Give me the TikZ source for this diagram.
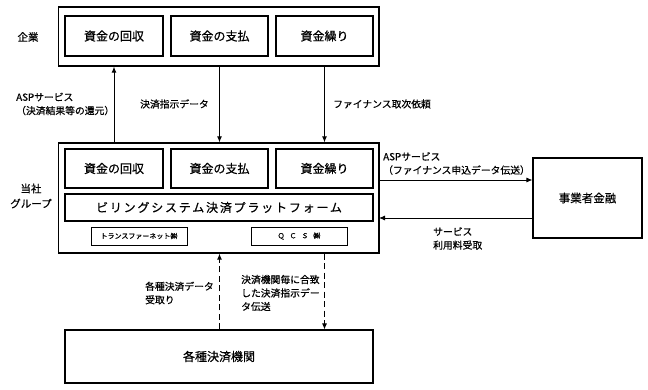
\documentclass[tikz,border=0pt]{standalone}
\usepackage{fontspec}
\setmainfont[FakeBold=0.6]{Noto Sans CJK JP}
\newfontfamily\jpwide[LetterSpace=15,FakeBold=0.6]{Noto Sans CJK JP}
\newfontfamily\jpqcs[LetterSpace=70,FakeBold=0.6]{Noto Sans CJK JP}
\usetikzlibrary{arrows.meta}
\begin{document}
\begin{tikzpicture}[x=1pt,y=-1pt,
  outerbox/.style={draw,line width=1.3pt,inner sep=0pt},
  innerbox/.style={draw,line width=1.1pt,inner sep=0pt,font=\fontsize{12}{14}\selectfont},
  smallbox/.style={draw,line width=0.9pt,inner sep=0pt,font=\fontsize{7}{8}\selectfont},
  lbl/.style={anchor=west,inner sep=0pt,align=left,font=\fontsize{9.8}{13.5}\selectfont},
  arr/.style={line width=0.9pt,-{Latex[length=6pt,width=5pt]}},
  darr/.style={line width=0.9pt,dash pattern=on 6pt off 3.5pt,-{Latex[length=6pt,width=5pt]}}]
\useasboundingbox (0,0) rectangle (648,390);
% top group
\node[outerbox,minimum width=320.5pt,minimum height=59pt] (top) at (218.75,36.5) {};
\node[innerbox,minimum width=98pt,minimum height=40pt] (t1) at (114,36) {資金の回収};
\node[innerbox,minimum width=97pt,minimum height=40pt] (t2) at (219.5,36) {資金の支払};
\node[innerbox,minimum width=97pt,minimum height=40pt] (t3) at (324.5,36) {資金繰り};
\node[inner sep=0pt,font=\fontsize{10.5}{13}\selectfont] (lk) at (28,37) {企業};
% middle group
\node[outerbox,minimum width=320.5pt,minimum height=110pt] (mid) at (218.75,198) {};
\node[innerbox,minimum width=98pt,minimum height=39pt] (m1) at (114,168.5) {資金の回収};
\node[innerbox,minimum width=97pt,minimum height=39pt] (m2) at (219.5,168.5) {資金の支払};
\node[innerbox,minimum width=97pt,minimum height=39pt] (m3) at (324.5,168.5) {資金繰り};
\node[innerbox,minimum width=308pt,minimum height=27pt,font=\fontsize{12}{14}\jpwide] (plat) at (219,207.5) {ビリングシステム決済プラットフォーム};
\node[smallbox,minimum width=96pt,minimum height=18pt] (tn) at (139,236) {トランスファーネット㈱};
\node[smallbox,minimum width=96pt,minimum height=18pt,font=\fontsize{7}{8}\jpqcs] (qcs) at (299,236) {ＱＣＳ㈱};
\node[inner sep=0pt,align=center,font=\fontsize{10.5}{15}\selectfont] (lg) at (31,196) {当社\\グループ};
% right box
\node[outerbox,line width=1.1pt,minimum width=109pt,minimum height=80pt,font=\fontsize{11.5}{14}\selectfont] (fin) at (587.5,198) {事業者金融};
% bottom box
\node[outerbox,line width=1.1pt,minimum width=308pt,minimum height=53pt,font=\fontsize{12}{14}\selectfont] (bot) at (219,356.5) {各種決済機関};
% arrows top-middle
\draw[arr] (mid.north -| t1.center) -- (top.south -| t1.center);
\draw[arr] (top.south -| t2.center) -- (mid.north -| t2.center);
\draw[arr] (top.south -| t3.center) -- (mid.north -| t3.center);
% arrows middle-right
\coordinate (ra) at (379,180);
\coordinate (rb) at (379,218);
\draw[arr] (ra) -- (ra -| fin.west);
\draw[arr] (rb -| fin.west) -- (rb);
% dashed arrows
\draw[darr] (bot.north -| t2.center) -- (mid.south -| t2.center);
\draw[darr] (mid.south -| t3.center) -- (bot.north -| t3.center);
% labels
\node[lbl] (l1) at (16,104) {ASPサービス\\（決済結果等の還元）};
\node[lbl] (l2) at (140,104) {決済指示データ};
\node[lbl] (l3) at (333,104) {ファイナンス取次依頼};
\node[lbl] (l4) at (383,163.5) {ASPサービス\\（ファイナンス申込データ伝送）};
\node[lbl] (l5) at (433,238.5) {サービス\\利用料受取};
\node[lbl] (l6) at (145,293) {各種決済データ\\受取り};
\node[lbl] (l7) at (241,293) {決済機関毎に合致\\した決済指示デー\\タ伝送};
\end{tikzpicture}
\end{document}
